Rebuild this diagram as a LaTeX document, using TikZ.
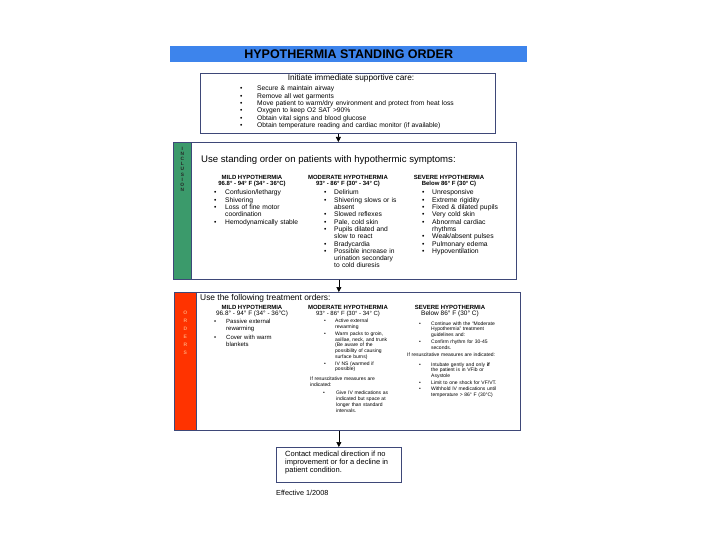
\documentclass[tikz,border=0pt]{standalone}
\usepackage{fontspec}
\setmainfont{Liberation Sans}
\usetikzlibrary{arrows.meta,positioning,calc}
\definecolor{barblue}{HTML}{3D84EC}
\definecolor{frameln}{HTML}{3E4878}
\definecolor{inclgreen}{HTML}{3B9A6B}
\definecolor{ordred}{HTML}{FF3300}
\definecolor{ordtxt}{HTML}{FFA070}
\newcommand{\fs}[2]{\fontsize{#1}{#2}\selectfont}
\newcommand{\bitem}[2][11pt]{\par\hangindent=#1\hangafter=1\noindent\makebox[#1][l]{\textbullet}#2\par}
\tikzset{
  bar/.style={rectangle, fill=barblue, anchor=north west, inner sep=0pt, font=\fs{12.5}{13}\bfseries},
  frame/.style={rectangle, draw=frameln, line width=0.7pt, anchor=north west, inner sep=0pt},
  strip/.style={rectangle, draw=frameln, line width=0.7pt, anchor=north west, inner sep=0pt},
  sidelbl/.style={font=\fs{4.8}{5.1}\bfseries, align=center, inner sep=0pt, anchor=north},
  hd/.style={font=\fs{6}{6.6}\bfseries, align=center, inner sep=0pt, anchor=north},
  lst/.style={font=\fs{6.7}{7.3}, align=left, text width=#1, inner sep=0pt, anchor=north west},
  tiny/.style={font=\fs{5}{5.8}, align=left, text width=#1, inner sep=0pt, anchor=north west},
  head/.style={inner sep=0pt, anchor=north west},
  flow/.style={-{Triangle[length=5pt,width=5pt]}, draw=black, line width=0.6pt},
}

\begin{document}
\begin{tikzpicture}[x=1pt, y=-1pt]
\useasboundingbox (0,0) rectangle (720,540);

% title and first box
\node[bar, minimum width=357pt, minimum height=16pt] (title) at (170,46) {HYPOTHERMIA STANDING ORDER};
\node[frame, minimum width=295pt, minimum height=60pt] (care) at (200,73) {};
\node[hd, font=\fs{8.3}{9}] (careh) at (351,74) {Initiate immediate supportive care:};
\node[lst=250pt, font=\fs{6.7}{7.3}] (carel) at (240,83.5) {%
  \bitem[17pt]{Secure \& maintain airway}
  \bitem[17pt]{Remove all wet garments}
  \bitem[17pt]{Move patient to warm/dry environment and protect from heat loss}
  \bitem[17pt]{Oxygen to keep O2 SAT >90\%}
  \bitem[17pt]{Obtain vital signs and blood glucose}
  \bitem[17pt]{Obtain temperature reading and cardiac monitor (if available)}};

% inclusion
\node[frame, minimum width=343pt, minimum height=137pt] (incl) at (173,142) {};
\node[strip, fill=inclgreen, minimum width=18pt, minimum height=137pt] (inclbar) at (incl.north west) {};
\node[sidelbl, text=black!85, below=5pt of inclbar.north] (incllbl) {I\\N\\C\\L\\U\\S\\I\\O\\N};
\node[head, font=\fs{9.6}{10}] (inclh) at (201,155.5) {Use standing order on patients with hypothermic symptoms:};

\node[hd] (imildh) at (252,175) {MILD HYPOTHERMIA\\96.8° - 94° F (34° - 36°C)};
\node[lst=100pt] (imild) at (214,187.5) {%
  \bitem{Confusion/lethargy}
  \bitem{Shivering}
  \bitem{Loss of fine motor\newline coordination}
  \bitem{Hemodynamically stable}};

\node[hd] (imodh) at (348,175) {MODERATE HYPOTHERMIA\\93° - 86° F (30° - 34° C)};
\node[lst=95pt] (imod) at (324,187.5) {%
  \bitem[10pt]{Delirium}
  \bitem[10pt]{Shivering slows or is\newline absent}
  \bitem[10pt]{Slowed reflexes}
  \bitem[10pt]{Pale, cold skin}
  \bitem[10pt]{Pupils dilated and\newline slow to react}
  \bitem[10pt]{Bradycardia}
  \bitem[10pt]{Possible increase in\newline urination secondary\newline to cold diuresis}};

\node[hd] (isevh) at (449,175) {SEVERE HYPOTHERMIA\\Below 86° F (30° C)};
\node[lst=90pt, font=\fs{6.8}{7.3}] (isev) at (422,187.5) {%
  \bitem[10pt]{Unresponsive}
  \bitem[10pt]{Extreme rigidity}
  \bitem[10pt]{Fixed \& dilated pupils}
  \bitem[10pt]{Very cold skin}
  \bitem[10pt]{Abnormal cardiac\newline rhythms}
  \bitem[10pt]{Weak/absent pulses}
  \bitem[10pt]{Pulmonary edema}
  \bitem[10pt]{Hypoventilation}};

% orders
\node[frame, minimum width=346pt, minimum height=138pt] (ord) at (174,292) {};
\node[strip, fill=ordred, minimum width=22pt, minimum height=138pt] (ordbar) at (ord.north west) {};
\node[sidelbl, text=ordtxt, font=\fs{5}{8}\bfseries, below=19pt of ordbar.north] (ordlbl) {O\\R\\D\\E\\R\\S};
\node[head, font=\fs{8.4}{9}] (ordh) at (200,294.5) {Use the following treatment orders:};

\node[hd] (omildh) at (252,305) {MILD HYPOTHERMIA\\\fs{6.4}{6.8}\mdseries 96.8° - 94° F (34° - 36°C)};
\node[lst=100pt, font=\fs{6}{7}] (omild) at (214,316.5) {%
  \bitem[12pt]{Passive external\newline rewarming}\vspace{1.8pt}
  \bitem[12pt]{Cover with warm\newline blankets}};

\node[hd] (omodh) at (348,305) {MODERATE HYPOTHERMIA\\\mdseries 93° - 86° F (30° - 34° C)};
\node[tiny=85pt, font=\fs{5}{5.7}] (omod) at (324,317) {%
  \bitem[11pt]{Active external\newline rewarming}\vspace{1.2pt}
  \bitem[11pt]{Warm packs to groin,\newline axillae, neck, and trunk\newline (Be aware of the\newline possibility of causing\newline surface burns)}\vspace{1.2pt}
  \bitem[11pt]{IV NS (warmed if\newline possible)}};
\node[tiny=85pt, font=\fs{5}{5.7}] (omodr) at (310,377) {If resuscitative measures are\newline indicated:};
\node[tiny=85pt, font=\fs{5}{5.7}] (omodl) at (323,389) {%
  \bitem[13pt]{Give IV medications as\newline indicated but space at\newline longer than standard\newline intervals.}};

\node[hd] (osevh) at (450,305) {SEVERE HYPOTHERMIA\\\fs{6.5}{7}\mdseries Below 86° F (30° C)};
\node[tiny=95pt] (osev) at (419,319) {%
  \bitem[12pt]{Continue with the “Moderate\newline Hypothermia” treatment\newline guidelines and:}\vspace{1.2pt}
  \bitem[12pt]{Confirm rhythm for 30-45\newline seconds.}};
\node[tiny=105pt] (osevr) at (407,353) {If resuscitative measures are indicated:};
\node[tiny=95pt] (osevl) at (419,360) {%
  \bitem[12pt]{Intubate gently and only \textbf{if}\newline the patient is in VFib or\newline Asystole}\vspace{1.2pt}
  \bitem[12pt]{Limit to one shock for VF/VT.}
  \bitem[12pt]{Withhold IV medications until\newline temperature > 86° F (30°C)}};

% last box
\node[frame, minimum width=125pt, minimum height=35pt] (contact) at (276,447) {};
\node[head, font=\fs{7.5}{8}, align=left] (contactt) at (285,450.5) {Contact medical direction if no\\improvement or for a decline in\\patient condition.};
\node[head, font=\fs{7.3}{8}] (eff) at (276,490.5) {Effective 1/2008};

% connectors
\draw[flow] ([xshift=-9.5pt]care.south) -- ([xshift=-9.5pt]care.south |- incl.north);
\draw[flow] ([xshift=-6pt]incl.south) -- ([xshift=-6pt]incl.south |- ord.north);
\draw[flow] (contact.north |- ord.south) -- (contact.north);
\end{tikzpicture}
\end{document}
